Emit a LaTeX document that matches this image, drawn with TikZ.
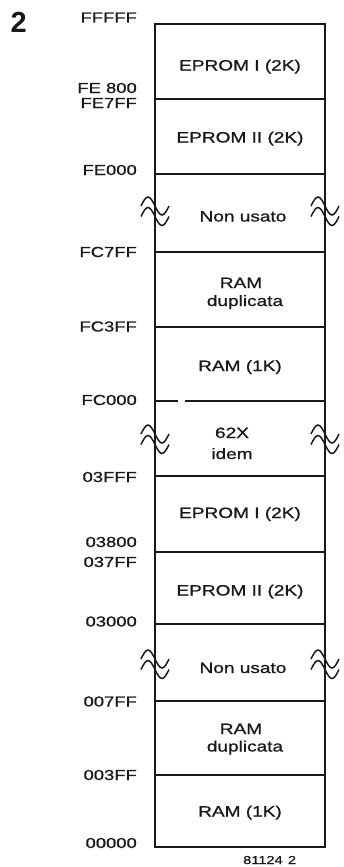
\documentclass[tikz,border=0pt]{standalone}
\usepackage{fontspec}
\setmainfont{Liberation Sans}
\newfontfamily\widefont{Liberation Sans}[FakeStretch=1.27,FakeBold=0.9]
\definecolor{ink}{gray}{0.1}
\begin{document}
\begin{tikzpicture}[x=1pt,y=-1pt,
  cell/.style={font=\widefont\fontsize{15}{18}\selectfont, anchor=base, inner sep=0pt, text=ink},
  addr/.style={font=\widefont\fontsize{14.5}{17}\selectfont, anchor=base east, inner sep=0pt, text=ink},
  wall/.style={draw=ink, line width=2.7pt},
  wave/.style={draw=ink, line width=1.5pt},
  brk/.pic={
    \draw[wave] (-14,0) sin (-7,-9) cos (0,0) sin (7,9) cos (14,0);
    \draw[wave] (-14,10.5) sin (-7,1.5) cos (0,10.5) sin (7,19.5) cos (14,10.5);
  }]
\useasboundingbox (0,0) rectangle (344,867);

% outer walls
\coordinate (TL) at (155,24);
\coordinate (TR) at (325,24);
\coordinate (BL) at (155,847);
\coordinate (BR) at (325,847);
\draw[wall, line cap=rect] (TL) -- (BL);
\draw[wall, line cap=rect] (TR) -- (BR);
\draw[wall] (TL) -- (TR);
\draw[wall] (BL) -- (BR);

% dividers
\foreach \n/\y in {a/99,b/174,c/252,d/327,f/476,g/552,h/624,i/701,j/775}{
  \coordinate (L\n) at (155,\y);
  \coordinate (R\n) at (325,\y);
  \draw[wall] (L\n) -- (R\n);
}
% broken divider at FC000
\coordinate (Le) at (155,401);
\coordinate (Ge1) at (178,401);
\coordinate (Ge2) at (185,401);
\coordinate (Re) at (325,401);
\draw[wall] (Le) -- (Ge1);
\draw[wall] (Ge2) -- (Re);

% break marks
\foreach \y in {206,434,659}{
  \pic at (155,\y) {brk};
  \pic at (325,\y) {brk};
}

% address labels
\node[addr] (aFFFFF) at (137,22.5) {FFFFF};
\node[addr] (aFE800) at (137,93) {FE 800};
\node[addr] (aFE7FF) at (137,108) {FE7FF};
\node[addr] (aFE000) at (137,175) {FE000};
\node[addr] (aFC7FF) at (137,257) {FC7FF};
\node[addr] (aFC3FF) at (137,331.5) {FC3FF};
\node[addr] (aFC000) at (137,405) {FC000};
\node[addr] (a03FFF) at (137,482) {03FFF};
\node[addr] (a03800) at (137,547) {03800};
\node[addr] (a037FF) at (137,567) {037FF};
\node[addr] (a03000) at (137,626.5) {03000};
\node[addr] (a007FF) at (137,706.5) {007FF};
\node[addr] (a003FF) at (137,780) {003FF};
\node[addr] (a00000) at (137,848) {00000};

% cell texts
\node[cell] (c1) at (240,70.5) {EPROM I (2K)};
\node[cell] (c2) at (240,142.5) {EPROM II (2K)};
\node[cell] (c3) at (243,221.5) {Non usato};
\node[cell] (c4a) at (241,288) {RAM};
\node[cell] (c4b) at (245,306) {duplicata};
\node[cell] (c5) at (240,371) {RAM (1K)};
\node[cell] (c6a) at (232,438) {62X};
\node[cell] (c6b) at (232,459) {idem};
\node[cell] (c7) at (240,518) {EPROM I (2K)};
\node[cell] (c8) at (240,595.5) {EPROM II (2K)};
\node[cell] (c9) at (243,673) {Non usato};
\node[cell] (c10a) at (241,734) {RAM};
\node[cell] (c10b) at (245,751.5) {duplicata};
\node[cell] (c11) at (240,816.5) {RAM (1K)};

% figure number and code
\node[anchor=base west, inner sep=0pt, text=ink, font=\bfseries\fontsize{29}{32}\selectfont] (fig) at (10.5,33) {2};
\node[anchor=base west, inner sep=0pt, text=ink, font=\widefont\fontsize{11.5}{14}\selectfont] (code) at (243,864) {81124\hspace{0.45em}2};
\end{tikzpicture}
\end{document}
